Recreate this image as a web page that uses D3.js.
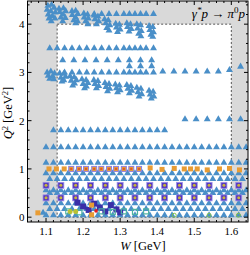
<!DOCTYPE html>
<html>
<head>
<meta charset="utf-8">
<script src="https://cdn.jsdelivr.net/npm/d3@7"></script>
<style>
  body { margin: 0; background: #fff; }
  svg { display: block; }
  text { font-family: "Liberation Serif", "DejaVu Serif", serif; fill: #000; }
</style>
</head>
<body>
<svg id="chart" width="250" height="255"></svg>
<script>
// ---- data (W in GeV, Q2 in GeV^2) ----
const wGrid02 = [1.10, 1.12, 1.14, 1.16, 1.18, 1.20, 1.22, 1.24, 1.26, 1.28, 1.30, 1.32, 1.34, 1.36,
                 1.38, 1.40, 1.42, 1.44, 1.46, 1.48, 1.50, 1.52, 1.54, 1.56, 1.58, 1.60, 1.62, 1.64];
const wGridOdd = [1.11, 1.13, 1.15, 1.17, 1.19, 1.21, 1.23, 1.25, 1.27, 1.29, 1.31, 1.33, 1.35, 1.37,
                  1.39, 1.41, 1.43, 1.45, 1.47, 1.49, 1.51, 1.53, 1.55, 1.57, 1.59, 1.61, 1.63];
const wGrid04 = [1.10, 1.14, 1.18, 1.22, 1.26, 1.30, 1.34, 1.38, 1.42, 1.46, 1.50, 1.54, 1.58, 1.62];

// rows measured on the W grids
const fullRowsQ2 = [1.45, 1.13, 0.91, 0.56, 0.29, 0.04];
const oddRowsQ2 = [0.79, 0.50, 0.17];

const rowQ2_42 = [1.23, 1.25, 1.27, 1.29, 1.31, 1.325, 1.34, 1.355, 1.37, 1.39];
const rowQ2_35 = [1.11, 1.13, 1.15, 1.17, 1.19, 1.21, 1.23, 1.25, 1.27, 1.29, 1.31, 1.325, 1.34, 1.355, 1.37, 1.39];
const rowQ2_325 = [1.145, 1.175, 1.205, 1.235, 1.265, 1.295, 1.325, 1.355, 1.385];
const rowQ2_30 = [1.15, 1.17, 1.19, 1.21, 1.23, 1.25, 1.27, 1.29, 1.31, 1.325, 1.34, 1.355, 1.37, 1.39];
const rowQ2_18 = [1.12, 1.14, 1.16, 1.18, 1.20, 1.22, 1.24, 1.26, 1.28, 1.30, 1.32, 1.34, 1.36, 1.38, 1.40, 1.42];
const rowQ2_20 = [1.475, 1.505, 1.535, 1.565, 1.595, 1.625];

const blueExtra = [
  [1.325, 3.13], [1.355, 3.13], [1.385, 3.13],
  [1.415, 3.02], [1.445, 3.02], [1.475, 3.02], [1.505, 3.02], [1.535, 3.02], [1.565, 3.02], [1.595, 3.05], [1.625, 3.12],
  [1.092, 0.09]
];

// clustered high-Q2 measurements
const blueTop = [
  [1.105, 4.38], [1.115, 4.40], [1.122, 4.34], [1.103, 4.30], [1.113, 4.27], [1.125, 4.24], [1.106, 4.20], [1.117, 4.17], [1.124, 4.12], [1.108, 4.12], [1.114, 4.06],
  [1.135, 4.32], [1.147, 4.33], [1.153, 4.27], [1.137, 4.25], [1.146, 4.20], [1.140, 4.14], [1.152, 4.13], [1.145, 4.06],
  [1.170, 4.27], [1.180, 4.28], [1.186, 4.21], [1.171, 4.19], [1.180, 4.14], [1.175, 4.08], [1.185, 4.06], [1.180, 4.02],
  [1.202, 4.22], [1.212, 4.20], [1.203, 4.14], [1.214, 4.12], [1.207, 4.06], [1.213, 4.00],
  [1.230, 4.18], [1.240, 4.16], [1.232, 4.10], [1.242, 4.06], [1.236, 4.00],
  [1.258, 4.10], [1.268, 4.08], [1.261, 4.02], [1.272, 3.98], [1.264, 3.92], [1.270, 3.87],
  [1.288, 4.01], [1.298, 3.99], [1.290, 3.93], [1.300, 3.89], [1.293, 3.84],
  [1.318, 4.02], [1.328, 4.00], [1.320, 3.94], [1.330, 3.90], [1.324, 3.85],
  [1.345, 4.00], [1.355, 3.98], [1.347, 3.91], [1.357, 3.86], [1.350, 3.80], [1.356, 3.75],
  [1.378, 3.96], [1.388, 3.94], [1.380, 3.88], [1.390, 3.83], [1.383, 3.78], [1.388, 3.74]
];
const blueMid = [
  [1.103, 3.00], [1.113, 3.02], [1.123, 2.98], [1.106, 2.93], [1.118, 2.92], [1.110, 2.87], [1.121, 2.86],
  [1.137, 2.98], [1.148, 2.97], [1.153, 2.91], [1.140, 2.89], [1.148, 2.84], [1.143, 2.81],
  [1.165, 2.92], [1.176, 2.90], [1.182, 2.84], [1.168, 2.83], [1.177, 2.77], [1.172, 2.73],
  [1.197, 2.86], [1.208, 2.84], [1.213, 2.78], [1.200, 2.76], [1.209, 2.71], [1.204, 2.67],
  [1.229, 2.84], [1.240, 2.82], [1.232, 2.76], [1.242, 2.72], [1.236, 2.67],
  [1.259, 2.78], [1.270, 2.76], [1.262, 2.70], [1.272, 2.66], [1.266, 2.61],
  [1.287, 2.75], [1.298, 2.73], [1.290, 2.67], [1.300, 2.63], [1.293, 2.59],
  [1.318, 2.74], [1.329, 2.72], [1.321, 2.66], [1.331, 2.62], [1.325, 2.57],
  [1.345, 2.68], [1.356, 2.66], [1.348, 2.59], [1.358, 2.55], [1.351, 2.50],
  [1.378, 2.62], [1.389, 2.60], [1.381, 2.54], [1.391, 2.50], [1.384, 2.46]
];

const orangeQ1 = [
  [1.108, 1.0], [1.128, 1.0], [1.149, 1.0], [1.168, 1.0], [1.189, 1.0], [1.208, 1.0], [1.23, 1.0], [1.249, 1.0],
  [1.27, 1.0], [1.289, 1.0], [1.31, 1.0], [1.33, 1.0], [1.351, 1.0], [1.381, 1.02], [1.413, 0.99], [1.446, 1.01],
  [1.473, 1.0], [1.49, 1.0], [1.508, 1.0], [1.535, 0.98], [1.568, 1.0], [1.595, 1.01], [1.622, 0.98]
];
const orangeLow = [[1.078, 0.09], [1.223, 0.25], [1.223, 0.05]];
const purpleQ2 = [0.66, 0.40];
const greenOpen = [[1.446, 0.04], [1.54, 0.04], [1.619, 0.04]];
const navyLow = [
  [1.185, 0.30], [1.20, 0.22], [1.215, 0.15], [1.23, 0.28], [1.245, 0.20], [1.26, 0.12], [1.275, 0.25], [1.29, 0.16], [1.30, 0.10]
];
const tealLow = [[1.16, 0.12], [1.19, 0.10], [1.25, 0.12], [1.28, 0.11], [1.31, 0.12], [1.34, 0.11], [1.37, 0.12]];
const yellowLow = [[1.165, 0.12], [1.18, 0.12]];
const redLow = [[1.235, 0.13]];

// ---- layout ----
const svg = d3.select('#chart');
const x = d3.scaleLinear().domain([1.05, 1.645]).range([27.5, 248]);
const y = d3.scaleLinear().domain([-0.1, 4.48]).range([222, 1]);

const BLUE = '#4a8fc8';

// gray background outside the region of interest
svg.append('rect')
  .attr('x', x(1.05)).attr('y', y(4.48))
  .attr('width', x(1.645) - x(1.05)).attr('height', y(-0.1) - y(4.48))
  .attr('fill', '#d9d9d9');
svg.append('rect')
  .attr('x', x(1.13)).attr('y', y(4))
  .attr('width', x(1.6) - x(1.13)).attr('height', y(0) - y(4))
  .attr('fill', '#fff')
  .attr('stroke', '#555').attr('stroke-width', 1)
  .attr('stroke-dasharray', '2,2');

svg.append('clipPath').attr('id', 'clip')
  .append('rect')
  .attr('x', x(1.05)).attr('y', y(4.48))
  .attr('width', x(1.645) - x(1.05)).attr('height', y(-0.1) - y(4.48));
const plot = svg.append('g').attr('clip-path', 'url(#clip)');

// assemble blue triangle points
let bluePts = [];
fullRowsQ2.forEach(q => wGrid02.forEach(w => bluePts.push([w, q])));
oddRowsQ2.forEach(q => wGridOdd.forEach(w => bluePts.push([w, q])));
rowQ2_42.forEach(w => bluePts.push([w, 4.21]));
rowQ2_35.forEach(w => bluePts.push([w, 3.5]));
rowQ2_325.forEach(w => bluePts.push([w, 3.25]));
rowQ2_30.forEach(w => bluePts.push([w, 3.0]));
rowQ2_18.forEach(w => bluePts.push([w, 1.8]));
rowQ2_20.forEach(w => bluePts.push([w, 2.03]));
bluePts = bluePts.concat(blueExtra, blueTop, blueMid);

const tri = d3.symbol().type(d3.symbolTriangle).size(21);
plot.selectAll('path.tri')
  .data(bluePts)
  .join('path')
  .attr('class', 'tri')
  .attr('transform', d => `translate(${x(d[0])},${y(d[1])})`)
  .attr('d', tri)
  .attr('fill', BLUE);

// purple squares with yellow dots
let purplePts = [];
purpleQ2.forEach(q => wGrid04.forEach(w => purplePts.push([w, q])));
plot.selectAll('rect.purple')
  .data(purplePts)
  .join('rect')
  .attr('class', 'purple')
  .attr('x', d => x(d[0]) - 3).attr('y', d => y(d[1]) - 3)
  .attr('width', 6).attr('height', 6)
  .attr('fill', '#5436c0').attr('stroke', '#9d8fe6').attr('stroke-width', 0.8);
plot.selectAll('circle.pdot')
  .data(purplePts)
  .join('circle')
  .attr('class', 'pdot')
  .attr('cx', d => x(d[0])).attr('cy', d => y(d[1]))
  .attr('r', 1.5).attr('fill', '#c8b43c');

// navy / teal low-Q2 points
plot.selectAll('rect.navy')
  .data(navyLow)
  .join('rect')
  .attr('class', 'navy')
  .attr('x', d => x(d[0]) - 3).attr('y', d => y(d[1]) - 3)
  .attr('width', 6).attr('height', 6)
  .attr('fill', '#3a2fa8');
plot.selectAll('rect.teal')
  .data(tealLow)
  .join('rect')
  .attr('class', 'teal')
  .attr('x', d => x(d[0]) - 2.5).attr('y', d => y(d[1]) - 2.5)
  .attr('width', 5).attr('height', 5)
  .attr('fill', 'none').attr('stroke', '#4db3a0').attr('stroke-width', 1.2);
plot.selectAll('circle.yel')
  .data(yellowLow)
  .join('circle')
  .attr('class', 'yel')
  .attr('cx', d => x(d[0])).attr('cy', d => y(d[1]))
  .attr('r', 2.5).attr('fill', '#b9c234');

// orange squares at Q2 = 1
plot.selectAll('rect.orange')
  .data(orangeQ1.concat(orangeLow))
  .join('rect')
  .attr('class', 'orange')
  .attr('x', d => x(d[0]) - 2.5).attr('y', d => y(d[1]) - 2.5)
  .attr('width', 5).attr('height', 5)
  .attr('fill', '#e89c34')
  .attr('stroke', d => (d[0] > 1.16 && d[0] < 1.36 && d[1] > 0.5) ? '#8f80e0' : 'none')
  .attr('stroke-width', 1);
plot.selectAll('circle.odot')
  .data(orangeQ1.filter(d => d[0] > 1.16 && d[0] < 1.36))
  .join('circle')
  .attr('class', 'odot')
  .attr('cx', d => x(d[0])).attr('cy', d => y(d[1]))
  .attr('r', 1.2).attr('fill', '#dc5a2c');

plot.selectAll('circle.red')
  .data(redLow)
  .join('circle')
  .attr('class', 'red')
  .attr('cx', d => x(d[0])).attr('cy', d => y(d[1]))
  .attr('r', 1.8).attr('fill', '#e02020');

plot.selectAll('circle.green')
  .data(greenOpen)
  .join('circle')
  .attr('class', 'green')
  .attr('cx', d => x(d[0])).attr('cy', d => y(d[1]))
  .attr('r', 2).attr('fill', 'none')
  .attr('stroke', '#7fc24a').attr('stroke-width', 1);

// ---- frame and ticks ----
const x0 = x.range()[0], x1 = x.range()[1];
const y0 = y.range()[0], y1 = y.range()[1];
const xMajor = [1.1, 1.2, 1.3, 1.4, 1.5, 1.6];
const xMinor = d3.range(1.06, 1.645, 0.02).filter(v => Math.abs(v * 10 - Math.round(v * 10)) > 0.01);
const yMajor = [0, 1, 2, 3, 4];
const yMinor = d3.range(0, 4.48, 0.2).filter(v => Math.abs(v - Math.round(v)) > 0.01);

const frame = svg.append('g').attr('stroke', '#000').attr('stroke-width', 1);
frame.append('rect').attr('x', x0).attr('y', y1).attr('width', x1 - x0).attr('height', y0 - y1)
  .attr('fill', 'none');

xMajor.forEach(v => {
  frame.append('line').attr('x1', x(v)).attr('x2', x(v)).attr('y1', y0).attr('y2', y0 - 4);
  frame.append('line').attr('x1', x(v)).attr('x2', x(v)).attr('y1', y1).attr('y2', y1 + 4);
});
xMinor.forEach(v => {
  frame.append('line').attr('x1', x(v)).attr('x2', x(v)).attr('y1', y0).attr('y2', y0 - 2);
  frame.append('line').attr('x1', x(v)).attr('x2', x(v)).attr('y1', y1).attr('y2', y1 + 2);
});
yMajor.forEach(v => {
  frame.append('line').attr('x1', x0).attr('x2', x0 + 4).attr('y1', y(v)).attr('y2', y(v));
  frame.append('line').attr('x1', x1).attr('x2', x1 - 4).attr('y1', y(v)).attr('y2', y(v));
});
yMinor.forEach(v => {
  frame.append('line').attr('x1', x0).attr('x2', x0 + 2).attr('y1', y(v)).attr('y2', y(v));
  frame.append('line').attr('x1', x1).attr('x2', x1 - 2).attr('y1', y(v)).attr('y2', y(v));
});

svg.selectAll('text.xt')
  .data(xMajor)
  .join('text')
  .attr('class', 'xt')
  .attr('x', d => x(d)).attr('y', 235)
  .attr('text-anchor', 'middle')
  .style('font-size', '11px')
  .text(d => d3.format('.1f')(d));
svg.selectAll('text.yt')
  .data(yMajor)
  .join('text')
  .attr('class', 'yt')
  .attr('x', 24.5).attr('y', d => y(d) + 4)
  .attr('text-anchor', 'end')
  .style('font-size', '11px')
  .text(d => d);

// axis labels
const xl = svg.append('text').attr('x', 143).attr('y', 250).attr('text-anchor', 'middle').style('font-size', '12.5px');
xl.append('tspan').style('font-style', 'italic').text('W');
xl.append('tspan').text(' [GeV]');

const yl = svg.append('text').attr('transform', 'translate(12,113) rotate(-90)').attr('text-anchor', 'middle').style('font-size', '12.5px');
yl.append('tspan').style('font-style', 'italic').text('Q');
yl.append('tspan').attr('dy', -4).style('font-size', '8.5px').text('2');
yl.append('tspan').attr('dy', 4).text(' [GeV');
yl.append('tspan').attr('dy', -4).style('font-size', '8.5px').text('2');
yl.append('tspan').attr('dy', 4).text(']');

// reaction title
const tt = svg.append('text').attr('x', 245).attr('y', 18).attr('text-anchor', 'end')
  .style('font-size', '13px').style('font-style', 'italic');
tt.append('tspan').text('γ');
tt.append('tspan').attr('dy', -5).style('font-size', '9px').text('*');
tt.append('tspan').attr('dy', 5).text('p → π');
tt.append('tspan').attr('dy', -5).style('font-size', '9px').style('font-style', 'normal').text('0');
tt.append('tspan').attr('dy', 5).text('p');
</script>
</body>
</html>
